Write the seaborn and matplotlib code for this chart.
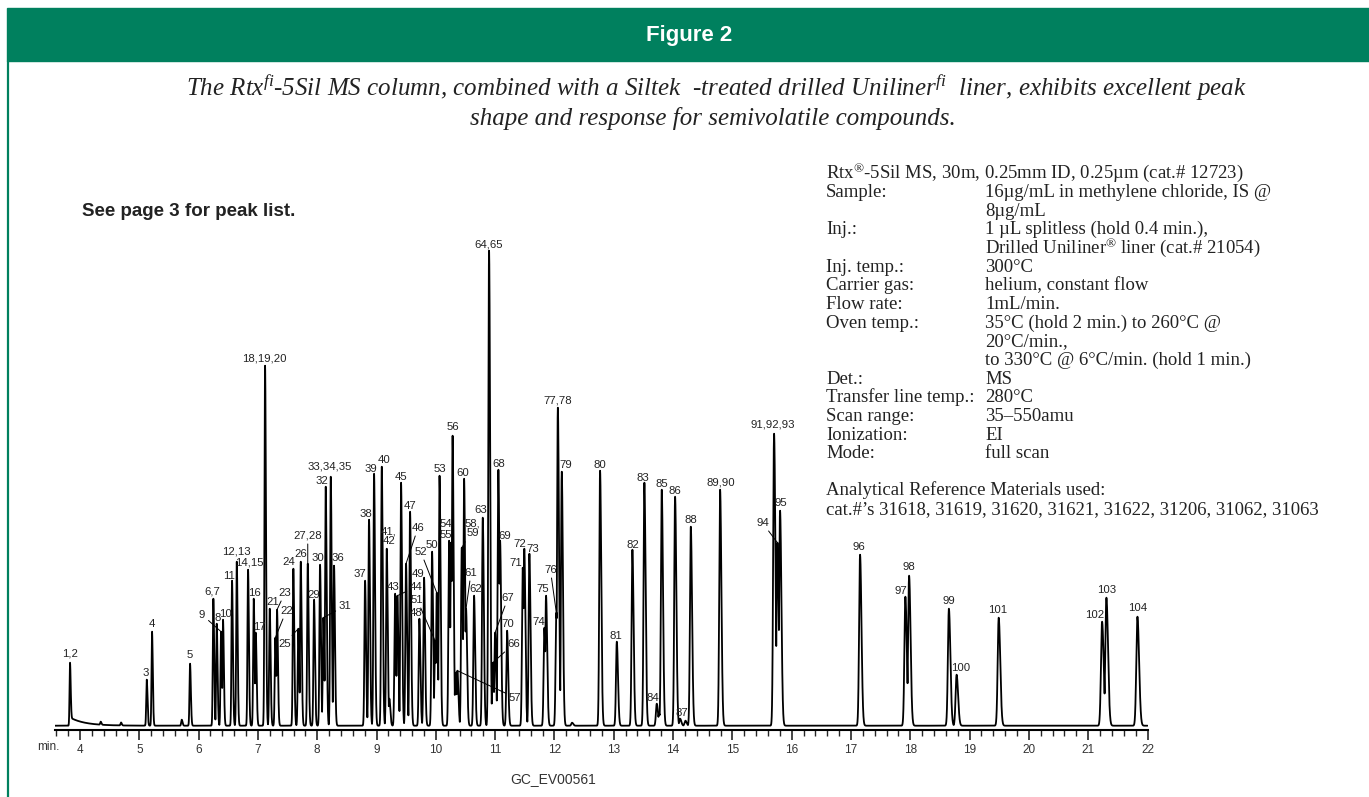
import numpy as np
import pandas as pd
import matplotlib
matplotlib.use("Agg")
import matplotlib.pyplot as plt
from matplotlib import font_manager
from matplotlib.patches import Rectangle
from matplotlib.lines import Line2D
from matplotlib.ticker import MultipleLocator
import seaborn as sns

# peak list: retention time (min), height (px above baseline), peak label
peak_time = [3.831, 4.349, 4.691, 5.125, 5.214, 5.715, 5.855, 6.248, 6.305, 6.378,
             6.411, 6.563, 6.643, 6.833, 6.929, 6.963, 7.120, 7.199, 7.293, 7.322,
             7.597, 7.681, 7.722, 7.840, 7.946, 8.047, 8.103, 8.143, 8.228, 8.283,
             8.806, 8.873, 8.958, 9.088, 9.172, 9.216, 9.312, 9.351, 9.413, 9.497,
             9.565, 9.722, 9.801, 9.936, 9.987, 10.015, 10.062, 10.223, 10.256, 10.282,
             10.332, 10.363, 10.437, 10.476, 10.509, 10.644, 10.791, 10.897, 10.960, 10.998,
             11.054, 11.083, 11.201, 11.465, 11.491, 11.577, 11.830, 11.858, 12.032, 12.057,
             12.123, 12.297, 12.769, 13.051, 13.314, 13.516, 13.725, 13.764, 13.809, 14.034,
             14.118, 14.208, 14.299, 14.793, 15.703, 15.759, 15.804, 17.153, 17.917, 17.980,
             18.651, 18.781, 19.491, 21.234, 21.307, 21.830]
peak_height = [63, 3, 3, 46, 94, 6, 62, 127, 102, 94,
               106, 145, 164, 156, 127, 93, 360, 117, 88, 116,
               157, 97, 164, 162, 126, 161, 108, 239, 249, 160,
               145, 206, 252, 259, 177, 27, 132, 130, 243, 162,
               214, 107, 148, 174, 85, 133, 250, 185, 183, 290,
               53, 55, 178, 247, 117, 130, 208, 475, 63, 93,
               256, 185, 95, 158, 177, 172, 98, 130, 113, 318,
               254, 3, 255, 84, 176, 243, 22, 12, 236, 229,
               7, 5, 199, 236, 292, 183, 215, 171, 129, 150,
               117, 51, 108, 104, 128, 109]
peak_label = ["1,2", "", "", "3", "4", "", "5", "6,7", "8", "9",
              "10", "11", "12,13", "14,15", "16", "17", "18,19,20", "21", "22", "23",
              "24", "25", "26", "27,28", "29", "30", "31", "32", "33,34,35", "36",
              "37", "38", "39", "40", "41,\n42", "", "43", "44", "45", "46",
              "47", "48", "49", "50", "51", "52", "53", "54", "55", "56",
              "", "57", "58,\n59", "60", "61", "62", "63", "64,65", "66", "67",
              "68", "69", "70", "71", "72", "73", "74", "75", "76", "77,78",
              "79", "", "80", "81", "82", "83", "84", "", "85", "86",
              "87", "", "88", "89,90", "91,92,93", "94", "95", "96", "97", "98",
              "99", "100", "101", "102", "103", "104"]

minute_ticks = list(range(4, 23))

column_line = "Rtx$^{\\mathrm{®}}$-5Sil MS, 30m, 0.25mm ID, 0.25µm (cat.# 12723)"
cond_names = ["Sample:", "", "Inj.:", "", "Inj. temp.:", "Carrier gas:", "Flow rate:",
              "Oven temp.:", "", "", "Det.:", "Transfer line temp.:", "Scan range:",
              "Ionization:", "Mode:"]
cond_values = ["16µg/mL in methylene chloride, IS @", "8µg/mL",
               "1 µL splitless (hold 0.4 min.),",
               "Drilled Uniliner$^{\\mathrm{®}}$ liner (cat.# 21054)",
               "300°C", "helium, constant flow", "1mL/min.",
               "35°C (hold 2 min.) to 260°C @", "20°C/min.,",
               "to 330°C @ 6°C/min. (hold 1 min.)", "MS", "280°C", "35–550amu", "EI",
               "full scan"]
ref_lines = ["Analytical Reference Materials used:",
             "cat.#’s 31618, 31619, 31620, 31621, 31622, 31206, 31062, 31063"]

title = "Figure 2"
subtitle = ["The Rtx$^{\\mathit{fi}}$-5Sil MS column, combined with a Siltek  -treated drilled "
            "Uniliner$^{\\mathit{fi}}$  liner, exhibits excellent peak",
            "shape and response for semivolatile compounds."]
note = "See page 3 for peak list."
code = "GC_EV00561"

# label placement (pixels from the peak apex); some get a leader line
label_offset = {
    "1,2": (0, 9), "3": (-1, 7), "4": (0, 8), "5": (0, 9), "6,7": (-1, 7), "8": (1, 6),
    "9": (-19, 17), "10": (2, 6), "11": (-3, 5), "12,13": (0, 10), "14,15": (1, 7),
    "16": (1, 6), "17": (4, 6), "18,19,20": (-1, 7), "21": (3, 7), "22": (11, 27),
    "23": (8, 17), "24": (-5, 7), "25": (-14, -15), "26": (0, 8), "27,28": (0, 28),
    "29": (0, 5), "30": (-2, 7), "31": (22, 12), "32": (-4, 6), "33,34,35": (-1, 10),
    "36": (4, 8), "37": (-5, 7), "38": (-3, 6), "39": (-3, 5), "40": (2, 7),
    "41,\n42": (2, 12), "43": (-2, 7), "44": (19, 9), "45": (0, 6), "46": (12, 36),
    "47": (0, 6), "48": (-3, 6), "49": (-6, 4), "50": (0, 7), "51": (-18, 41),
    "52": (-16, 41), "53": (0, 7), "54": (-3, 17), "55": (-5, 8), "56": (0, 9),
    "57": (58, -27), "58,\n59": (11, 19), "60": (-1, 6), "61": (5, 36), "62": (2, 7),
    "63": (-2, 8), "64,65": (0, 6), "66": (21, 19), "67": (13, 35), "68": (0, 6),
    "69": (5, 5), "70": (1, 7), "71": (-7, 5), "72": (-4, 5), "73": (3, 5),
    "74": (-6, 6), "75": (-3, 7), "76": (-6, 43), "77,78": (0, 7), "79": (4, 7),
    "80": (0, 6), "81": (-1, 6), "82": (0, 5), "83": (-1, 5), "84": (-4, 6),
    "85": (0, 6), "86": (0, 6), "87": (2, 6), "88": (0, 7), "89,90": (1, 7),
    "91,92,93": (-1, 9), "94": (-15, 20), "95": (1, 8), "96": (-1, 8), "97": (-4, 6),
    "98": (0, 9), "99": (0, 8), "100": (4, 7), "101": (-1, 8), "102": (-7, 7),
    "103": (0, 8), "104": (0, 9)}
leaders = {"9", "22", "23", "25", "27,28", "31", "44", "46", "51", "52", "57",
           "58,\n59", "61", "66", "67", "76", "94"}

sns.set_style("white")
names = {f.name for f in font_manager.fontManager.ttflist}
NARROW = "Liberation Sans Narrow" if "Liberation Sans Narrow" in names else "Liberation Sans"
plt.rcParams["font.family"] = ["Liberation Sans", "DejaVu Sans"]
plt.rcParams["mathtext.fontset"] = "custom"
plt.rcParams["mathtext.rm"] = "Liberation Serif"
plt.rcParams["mathtext.it"] = "Liberation Serif:italic"

W, H = 1369, 797
GREEN = "#00805e"


def fx(x):
    return x / W


def fy(y):
    return 1 - y / H


# build the trace from the peak table
t = np.linspace(3.578, 22.0, 40000)
signal = np.zeros_like(t)
for tp, hp in zip(peak_time, peak_height):
    sl = 0.008 + 0.0006 * (tp - 4)
    sr = 1.5 * sl
    s = np.where(t < tp, sl, sr)
    signal = np.maximum(signal, hp * np.exp(-0.5 * ((t - tp) / s) ** 2))
# solvent-like tail after the first peak
tail = np.where(t > peak_time[0], 0.13 * peak_height[0] * np.exp(-(t - peak_time[0]) / 0.25), 0)
signal = signal + tail * (1 - np.exp(-((t - peak_time[0]) / 0.02) ** 2))
df = pd.DataFrame({"time": t, "signal": signal})

fig = plt.figure(figsize=(W / 100, H / 100), dpi=100)
ax = fig.add_axes([fx(55), fy(730), fx(1147.5 - 55), (730 - 240) / H])
sns.lineplot(data=df, x="time", y="signal", ax=ax, color="black", linewidth=1.3,
             estimator=None, sort=False)
ax.set_xlim(3.578, 22.0)
ax.set_ylim(-4.3, 485.7)
for s in ["top", "left", "right"]:
    ax.spines[s].set_visible(False)
ax.spines["bottom"].set_linewidth(1.5)
ax.spines["bottom"].set_color("black")
ax.set_yticks([])
ax.set_xticks(minute_ticks)
ax.xaxis.set_minor_locator(MultipleLocator(0.2))
ax.tick_params(axis="x", which="major", length=7, width=1.2, direction="out",
               pad=3, labelsize=8.5, labelcolor="#333333", bottom=True)
ax.tick_params(axis="x", which="minor", length=4, width=1.0, direction="out", bottom=True)
for lab in ax.get_xticklabels():
    lab.set_family(NARROW)
ax.set_xlabel("")
ax.set_ylabel("")

for tp, hp, lab in zip(peak_time, peak_height, peak_label):
    if not lab:
        continue
    dx, dy = label_offset.get(lab, (0, 7))
    kw = {}
    if lab in leaders:
        kw["arrowprops"] = dict(arrowstyle="-", color="black", lw=0.7,
                                shrinkA=0, shrinkB=0)
    ax.annotate(lab, xy=(tp, hp), xytext=(dx, dy), textcoords="offset pixels",
                ha="center", va="center", fontsize=8.2, family=NARROW,
                linespacing=0.95, color="#222222", annotation_clip=False, **kw)

# header band, frame line and texts
fig.patches.append(Rectangle((fx(7), fy(61)), fx(W - 7), 53 / H,
                             transform=fig.transFigure, color=GREEN, zorder=0))
fig.lines.append(Line2D([fx(7.8), fx(7.8)], [fy(61), 0], transform=fig.transFigure,
                        color=GREEN, linewidth=1.6))
fig.text(fx(689), fy(35), title, ha="center", va="center", color="white",
         fontsize=16, fontweight="bold", family="Liberation Sans")
fig.text(fx(716), fy(87), subtitle[0], ha="center", va="center", fontsize=18,
         family="Liberation Serif", style="italic", color="#222222")
fig.text(fx(713), fy(118), subtitle[1], ha="center", va="center", fontsize=18,
         family="Liberation Serif", style="italic", color="#222222")
fig.text(fx(82), fy(212), note, ha="left", va="center", fontsize=13.5,
         fontweight="bold", family="Liberation Sans", color="#222222")

serif = dict(family="Liberation Serif", fontsize=13.5, color="#222222", va="baseline")
y0, step = 172.7 + 5.5, 18.67
fig.text(fx(826), fy(y0), column_line, ha="left", **serif)
for i, (n, v) in enumerate(zip(cond_names, cond_values)):
    yy = y0 + (i + 1) * step
    if n:
        fig.text(fx(826), fy(yy), n, ha="left", **serif)
    fig.text(fx(985), fy(yy), v, ha="left", **serif)
fig.text(fx(826), fy(489.3 + 5.5), ref_lines[0], ha="left", **serif)
fig.text(fx(826), fy(508.3 + 5.5), ref_lines[1], ha="left", **serif)

fig.text(fx(48), fy(747), "min.", ha="center", va="center", fontsize=8.5,
         family=NARROW, color="#333333")
fig.text(fx(553), fy(779), code, ha="center", va="center", fontsize=10,
         family=NARROW, color="#333333")

fig.savefig("out.png", dpi=100)
